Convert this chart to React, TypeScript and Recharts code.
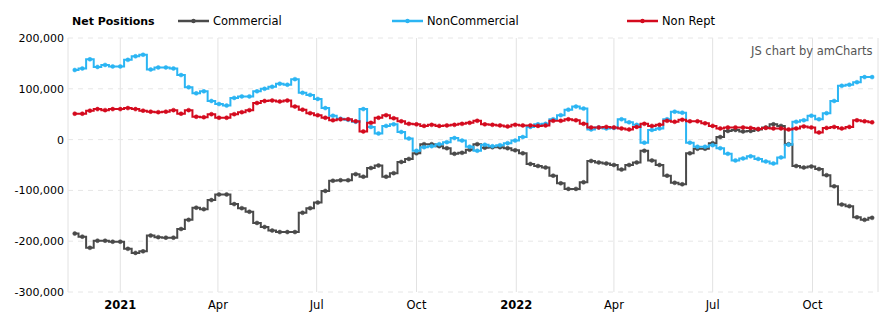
import React from "react";
import { LineChart, Line, XAxis, YAxis, CartesianGrid } from "recharts";

// Weekly net positions (thousands of contracts), first week 2020-11-20
const firstWeek = "2020-11-20";

const commercial = [
  -185, -191, -213, -199, -199, -201, -201, -215, -223, -220,
  -189, -192, -193, -193, -176, -158, -134, -137, -119, -108,
  -108, -127, -135, -142, -164, -172, -179, -182, -182, -182,
  -144, -135, -124, -101, -81, -80, -80, -68, -73, -56,
  -51, -73, -66, -44, -38, -27, -9, -9, -13, -17,
  -28, -26, -20, -9, -16, -15, -15, -17, -21, -27,
  -48, -52, -55, -71, -86, -97, -97, -84, -42, -45,
  -47, -50, -59, -50, -45, -22, -41, -50, -71, -85,
  -88, -27, -18, -18, -7, 5, 17, 19, 16, 17,
  20, 24, 30, 27, -9, -52, -55, -53, -58, -70,
  -92, -128, -131, -153, -158, -154,
];

const nonCommercial = [
  137, 140, 158, 143, 147, 144, 144, 157, 164, 167,
  138, 142, 142, 140, 127, 103, 91, 95, 76, 70,
  67, 82, 85, 85, 95, 100, 104, 110, 108, 119,
  92, 88, 80, 62, 47, 41, 39, 35, 60, 25,
  12, 27, 30, 15, 2, -22, -15, -13, -9, -5,
  3, -2, -14, -22, -10, -13, -11, -7, -2, 5,
  25, 30, 31, 40, 48, 59, 65, 61, 20, 24,
  22, 23, 40, 34, 29, -6, 19, 22, 40, 55,
  53, -6, -14, -14, -11, -17, -28, -41, -37, -33,
  -38, -43, -47, -35, -10, 35, 38, 47, 40, 52,
  76, 106, 108, 113, 123, 123,
];

const nonRept = [
  51, 51, 57, 60, 58, 60, 60, 62, 60, 57,
  55, 54, 55, 58, 51, 58, 45, 44, 50, 43,
  43, 50, 54, 58, 72, 76, 77, 75, 77, 65,
  59, 52, 48, 43, 38, 40, 40, 36, 16, 33,
  43, 48, 42, 36, 31, 30, 27, 29, 27, 28,
  29, 31, 33, 37, 30, 29, 28, 26, 29, 28,
  28, 27, 28, 37, 37, 40, 38, 31, 24, 24,
  25, 24, 22, 20, 25, 31, 27, 29, 37, 35,
  39, 36, 36, 32, 27, 22, 24, 24, 24, 23,
  21, 23, 22, 22, 20, 22, 26, 24, 14, 23,
  25, 22, 25, 38, 36, 34,
];

const tickDates = [
  "2021-01-01", "2021-04-01", "2021-07-01", "2021-10-01",
  "2022-01-01", "2022-04-01", "2022-07-01", "2022-10-01",
];
const tickLabels = ["2021", "Apr", "Jul", "Oct", "2022", "Apr", "Jul", "Oct"];
const yTicks = [-300000, -200000, -100000, 0, 100000, 200000];

const COLORS = { commercial: "#4a4a4a", nonCommercial: "#2bb5f3", nonRept: "#d40a1e" };
const FONT = "'DejaVu Sans', Verdana, sans-serif";

const DAY = 86400000;
const start = Date.parse(firstWeek + "T00:00:00Z");
const data = commercial.map((c, i) => ({
  t: start + i * 7 * DAY,
  commercial: c * 1000,
  nonCommercial: nonCommercial[i] * 1000,
  nonRept: nonRept[i] * 1000,
}));

const tickValues = tickDates.map((d) => Date.parse(d + "T00:00:00Z"));
const jan2021 = Date.parse("2021-01-01T00:00:00Z");
const xDomain = [jan2021 - 48.2 * DAY, jan2021 + 698.4 * DAY];

const XTick = (props: any) => {
  const { x, y, payload } = props;
  const idx = tickValues.indexOf(payload.value);
  const label = idx >= 0 ? tickLabels[idx] : "";
  const bold = /^\d{4}$/.test(label);
  return (
    <text x={x} y={y} dy={9} textAnchor="middle" fontFamily={FONT} fontSize={11.5}
      fontWeight={bold ? "bold" : "normal"} fill="#000">
      {label}
    </text>
  );
};

const LegendItem = ({ left, color, label }: { left: number; color: string; label: string }) => (
  <div style={{ position: "absolute", left, top: 14, height: 14, display: "flex", alignItems: "center" }}>
    <svg width={31} height={10} style={{ display: "block" }}>
      <line x1={0} y1={5} x2={31} y2={5} stroke={color} strokeWidth={2.5} />
      <circle cx={15.5} cy={5} r={2.2} fill={color} />
    </svg>
    <span style={{ marginLeft: 4, fontFamily: FONT, fontSize: 11.5, color: "#000", whiteSpace: "nowrap" }}>{label}</span>
  </div>
);

export default function App() {
  return (
    <div style={{ position: "relative", width: 891, height: 326, background: "#fff" }}>
      <style>{`body{margin:0}`}</style>
      <LineChart width={891} height={326} data={data} margin={{ top: 38, right: 13, bottom: 4, left: 8 }}>
        <CartesianGrid horizontal={false} stroke="#e2e2e2" />
        <CartesianGrid vertical={false} stroke="#e6e6e6" strokeDasharray="5 5" />
        <XAxis dataKey="t" type="number" domain={xDomain} ticks={tickValues} interval={0} axisLine={false}
          tickLine={false} height={30} tick={<XTick />} allowDataOverflow />
        <YAxis type="number" domain={[-300000, 200000]} ticks={yTicks} interval={0} width={60} axisLine={false}
          tickLine={false} tickSize={0} tickMargin={4}
          tickFormatter={(v: number) => v.toLocaleString("en-US")}
          tick={{ fontFamily: FONT, fontSize: 11, fill: "#000" }} />
        <Line type="step" dataKey="commercial" stroke={COLORS.commercial} strokeWidth={2}
          dot={{ r: 2, fill: COLORS.commercial, stroke: COLORS.commercial, strokeWidth: 0.5 }} activeDot={false} isAnimationActive={false} />
        <Line type="step" dataKey="nonCommercial" stroke={COLORS.nonCommercial} strokeWidth={2}
          dot={{ r: 2, fill: COLORS.nonCommercial, stroke: COLORS.nonCommercial, strokeWidth: 0.5 }} activeDot={false} isAnimationActive={false} />
        <Line type="step" dataKey="nonRept" stroke={COLORS.nonRept} strokeWidth={2}
          dot={{ r: 2, fill: COLORS.nonRept, stroke: COLORS.nonRept, strokeWidth: 0.5 }} activeDot={false} isAnimationActive={false} />
      </LineChart>
      <div style={{ position: "absolute", left: 72, top: 14, height: 14, display: "flex", alignItems: "center",
        fontFamily: FONT, fontSize: 11, fontWeight: "bold", color: "#000" }}>Net Positions</div>
      <LegendItem left={178} color={COLORS.commercial} label="Commercial" />
      <LegendItem left={392} color={COLORS.nonCommercial} label="NonCommercial" />
      <LegendItem left={627} color={COLORS.nonRept} label="Non Rept" />
      <div style={{ position: "absolute", left: 751, top: 44, fontFamily: FONT, fontSize: 11.5, color: "#555",
        whiteSpace: "nowrap" }}>JS chart by amCharts</div>
    </div>
  );
}
